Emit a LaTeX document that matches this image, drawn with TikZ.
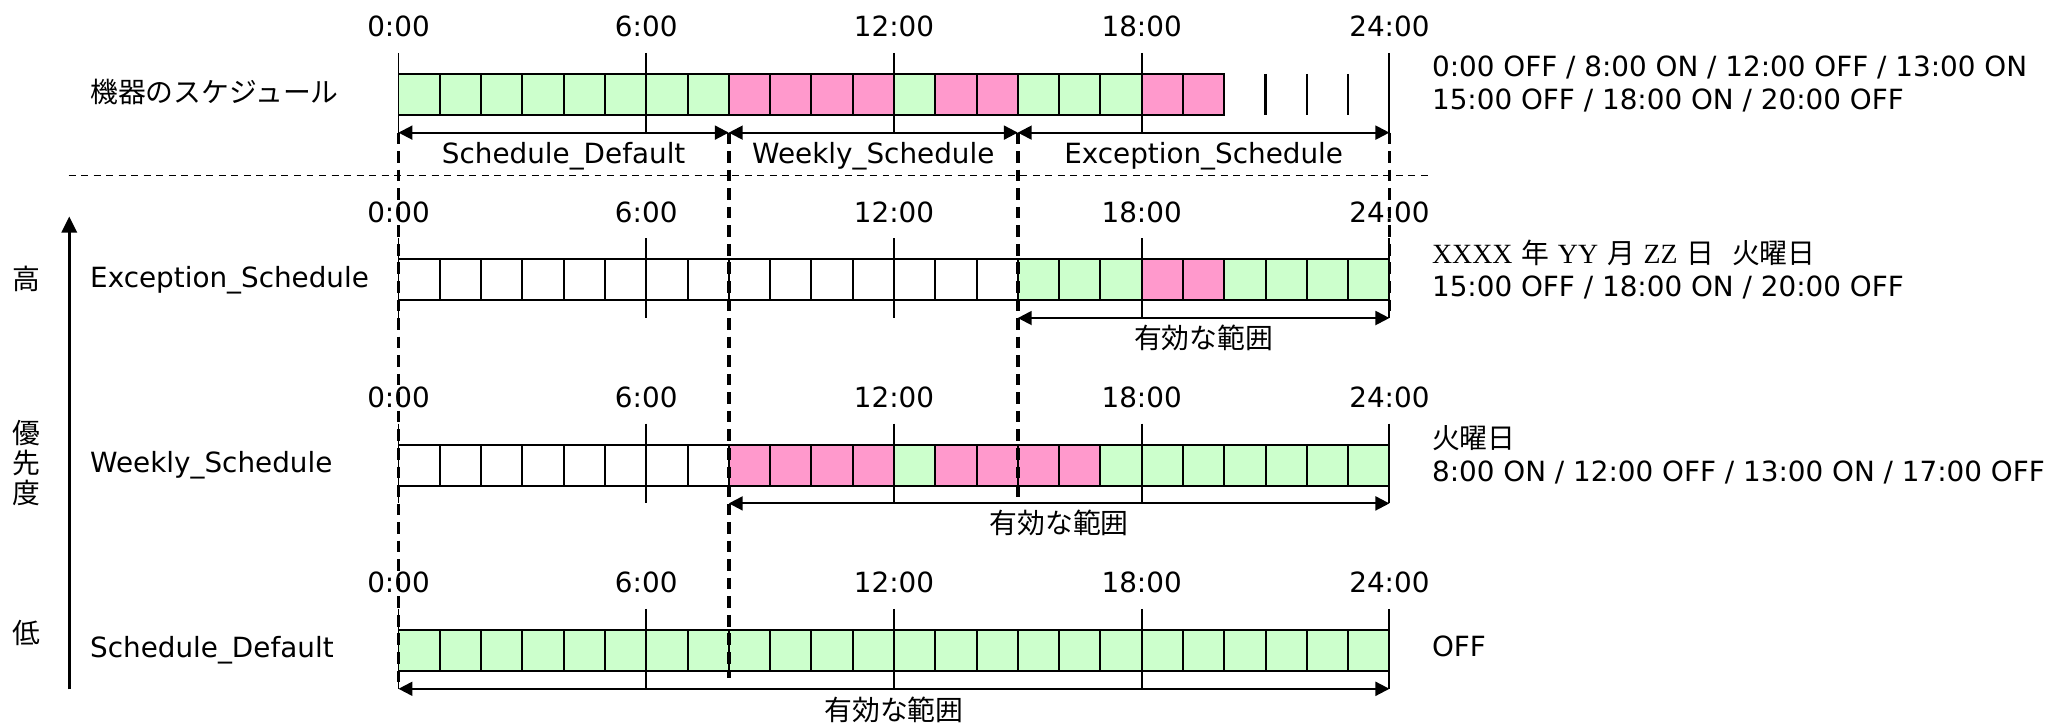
\documentclass[tikz,border=0pt]{standalone}
\usepackage{fontspec}
\setmainfont{DejaVu Sans}
\newfontfamily\jp{Noto Sans CJK JP}
\newfontfamily\tnr{Liberation Serif}
\usepackage{xcolor}
\usepackage{tikz}
\usetikzlibrary{positioning}
\usetikzlibrary{calc}
\usetikzlibrary{arrows.meta}

\definecolor{G}{HTML}{CCFFCC}
\definecolor{P}{HTML}{FF99CC}
\definecolor{W}{HTML}{FFFFFF}

\begin{document}
\begin{tikzpicture}[
        font=\fontsize{12}{14.2}\selectfont,
        cell/.style={rectangle, draw=black, line width=0.85pt, minimum width=6.258mm, minimum height=6.2mm, inner sep=0pt, outer sep=0pt, anchor=north west},
        tick/.style={line width=0.85pt},
        span/.style={>={Triangle[length=6pt, width=6pt]}, <->, line width=0.9pt},
        prio/.style={>={Triangle[length=7pt, width=6.5pt]}, ->, line width=1.3pt},
        guide/.style={line width=1.6pt, dash pattern=on 5pt off 3pt},
        hour/.style={anchor=base, inner sep=0pt},
        rowname/.style={anchor=west, inner sep=0pt},
        note/.style={anchor=west, inner sep=0pt, align=left},
        spanlabel/.style={anchor=base, inner sep=0pt}
    ]
    \useasboundingbox (0,0) rectangle (31.36,-10.96);

    % time axis of each row
    \foreach \r/\y in {1/-1.12, 2/-3.93, 3/-6.74, 4/-9.55}
        \foreach \h in {0,...,24} {
            \coordinate (r\r-\h) at (6.04+\h*0.6258, \y);
            \coordinate (a\r-\h) at (6.04+\h*0.6258, \y-0.89);
        }

    % hour cells
    \foreach \c [count=\h from 0] in {G,G,G,G,G,G,G,G,P,P,P,P,G,P,P,G,G,G,P,P}
        \node[cell, fill=\c] (c1-\h) at (r1-\h) {};
    \foreach \h in {21,22,23}
        \draw[line width=1.1pt] (r1-\h) -- ++(0,-0.62);
    \foreach \c [count=\h from 0] in {W,W,W,W,W,W,W,W,W,W,W,W,W,W,W,G,G,G,P,P,G,G,G,G}
        \node[cell, fill=\c] (c2-\h) at (r2-\h) {};
    \foreach \c [count=\h from 0] in {W,W,W,W,W,W,W,W,P,P,P,P,G,P,P,P,P,G,G,G,G,G,G,G}
        \node[cell, fill=\c] (c3-\h) at (r3-\h) {};
    \foreach \h in {0,...,23}
        \node[cell, fill=G] (c4-\h) at (r4-\h) {};

    % ticks and hours
    \foreach \r in {1,...,4}
        \foreach \h in {0,6,12,18,24} {
            \draw[tick] ([yshift=3.2mm]r\r-\h) -- (a\r-\h);
            \node[hour] (t\r-\h) at ([yshift=5.65mm]r\r-\h) {\h:00};
        }

    \draw[guide] (a1-0) -- (a4-0);
    \draw[guide] (a1-8) -- ([yshift=-7.2mm]r4-8);
    \draw[guide] (a1-15) -- (a3-15);
    \draw[guide] (a1-24) -- (a2-24);

    \coordinate (sepL) at (1.04,-2.66);
    \coordinate (sepR) at (21.7,-2.66);
    \draw[line width=0.8pt, dash pattern=on 3pt off 2.4pt] (sepL) -- (sepR);

    % ranges
    \draw[span] (a1-0) -- (a1-8);
    \draw[span] (a1-8) -- (a1-15);
    \draw[span] (a1-15) -- (a1-24);
    \node[spanlabel] (s1-dflt) at ($(a1-0)!0.5!(a1-8)+(0,-0.47)$) {Schedule\_Default};
    \node[spanlabel] (s1-wkly) at ($(a1-8)!0.5!(a1-15)+(0,-0.47)$) {Weekly\_Schedule};
    \node[spanlabel] (s1-exc) at ($(a1-15)!0.5!(a1-24)+(0,-0.47)$) {Exception\_Schedule};

    \draw[span] (a2-15) -- (a2-24);
    \node[spanlabel] (s2) at ($(a2-15)!0.5!(a2-24)+(0,-0.46)$) {\jp 有効な範囲};
    \draw[span] (a3-8) -- (a3-24);
    \node[spanlabel] (s3) at ($(a3-8)!0.5!(a3-24)+(0,-0.46)$) {\jp 有効な範囲};
    \draw[span] (a4-0) -- (a4-24);
    \node[spanlabel] (s4) at ($(a4-0)!0.5!(a4-24)+(0,-0.48)$) {\jp 有効な範囲};

    % row names
    \node[rowname] (dev) at (1.36,-1.40) {\jp 機器のスケジュール};
    \node[rowname] (exc) at (dev.west |- c2-0) {Exception\_Schedule};
    \node[rowname] (wkly) at (dev.west |- c3-0) {Weekly\_Schedule};
    \node[rowname] (dflt) at (dev.west |- c4-0) {Schedule\_Default};

    % notes
    \node[note] (n1) at ([xshift=6.4mm, yshift=-1.5mm]r1-24) {0:00 OFF / 8:00 ON / 12:00 OFF / 13:00 ON\\15:00 OFF / 18:00 ON / 20:00 OFF};
    \node[note] (n2) at ([xshift=6.4mm, yshift=-1.5mm]r2-24) {{\tnr XXXX} {\jp 年} {\tnr YY} {\jp 月} {\tnr ZZ} {\jp 日}\ \ {\jp 火曜日}\\15:00 OFF / 18:00 ON / 20:00 OFF};
    \node[note] (n3) at ([xshift=6.4mm, yshift=-1.5mm]r3-24) {{\jp 火曜日}\\8:00 ON / 12:00 OFF / 13:00 ON / 17:00 OFF};
    \node[note] (n4) at ([xshift=6.4mm, yshift=-2.5mm]r4-24) {OFF};

    % priority
    \coordinate (lo) at (1.05,-10.45);
    \coordinate (hi) at (1.05,-3.28);
    \draw[prio] (lo) -- (hi);
    \node (high) at (0.40,-4.22) {\jp 高};
    \node[align=center, font=\fontsize{12}{12.8}\selectfont\jp] (order) at (0.40,-7.02) {優\\先\\度};
    \node (low) at (0.40,-9.60) {\jp 低};
\end{tikzpicture}
\end{document}
